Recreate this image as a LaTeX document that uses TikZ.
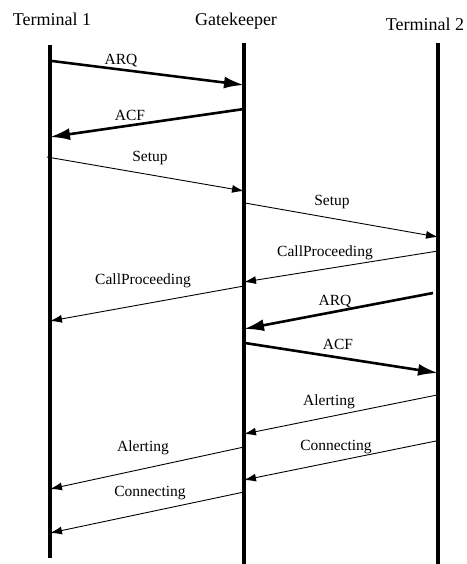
\documentclass[tikz,border=0pt]{standalone}
\usepackage{fontspec}
\setmainfont{Liberation Serif}
\usetikzlibrary{arrows.meta}
\begin{document}
\begin{tikzpicture}[x=1pt,y=-1pt,
  lifeline/.style={line width=3.6pt},
  heavymsg/.style={line width=2.6pt,-{Latex[length=20pt,width=12pt]}},
  lightmsg/.style={line width=0.9pt,-{Latex[length=12pt,width=8pt]}},
  header/.style={font=\fontsize{18}{20}\selectfont,anchor=base,inner sep=0pt},
  msglabel/.style={font=\fontsize{15.5}{18}\selectfont,anchor=base,inner sep=0pt}]
\useasboundingbox (0,0) rectangle (466,564);

% column headings
\node[header] (h1) at (52,26) {Terminal 1};
\node[header] (hg) at (236,26) {Gatekeeper};
\node[header] (h2) at (425,31) {Terminal 2};

% lifelines
\coordinate (t1top) at (50,45);  \coordinate (t1bot) at (50,558);
\coordinate (gktop) at (244,43); \coordinate (gkbot) at (244,564);
\coordinate (t2top) at (438,43); \coordinate (t2bot) at (438,564);
\draw[lifeline] (t1top) -- (t1bot);
\draw[lifeline] (gktop) -- (gkbot);
\draw[lifeline] (t2top) -- (t2bot);

% message end points
\coordinate (m1a) at (52,61);   \coordinate (m1b) at (244,85);
\coordinate (m2a) at (244,109); \coordinate (m2b) at (50,137);
\coordinate (m3a) at (47,157);  \coordinate (m3b) at (244,191);
\coordinate (m4a) at (245,203); \coordinate (m4b) at (438,237);
\coordinate (m5a) at (438,251); \coordinate (m5b) at (244,282);
\coordinate (m6a) at (244,286); \coordinate (m6b) at (50,321);
\coordinate (m7a) at (433,293); \coordinate (m7b) at (244,329);
\coordinate (m8a) at (245,343); \coordinate (m8b) at (438,373);
\coordinate (m9a) at (437,395); \coordinate (m9b) at (244,434);
\coordinate (m10a) at (436,441); \coordinate (m10b) at (244,480);
\coordinate (m11a) at (244,447); \coordinate (m11b) at (50,489);
\coordinate (m12a) at (244,492); \coordinate (m12b) at (50,533);

% messages
\draw[heavymsg] (m1a) -- (m1b);
\draw[heavymsg] (m2a) -- (m2b);
\draw[lightmsg] (m3a) -- (m3b);
\draw[lightmsg] (m4a) -- (m4b);
\draw[lightmsg] (m5a) -- (m5b);
\draw[lightmsg] (m6a) -- (m6b);
\draw[heavymsg] (m7a) -- (m7b);
\draw[heavymsg] (m8a) -- (m8b);
\draw[lightmsg] (m9a) -- (m9b);
\draw[lightmsg] (m10a) -- (m10b);
\draw[lightmsg] (m11a) -- (m11b);
\draw[lightmsg] (m12a) -- (m12b);

% message labels
\node[msglabel] (l1) at (121,65) {ARQ};
\node[msglabel] (l2) at (130,121) {ACF};
\node[msglabel] (l3) at (150,161) {Setup};
\node[msglabel] (l4) at (332,205) {Setup};
\node[msglabel] (l5) at (325,256) {CallProceeding};
\node[msglabel] (l6) at (143,284) {CallProceeding};
\node[msglabel] (l7) at (335,305) {ARQ};
\node[msglabel] (l8) at (338,349) {ACF};
\node[msglabel] (l9) at (329,405) {Alerting};
\node[msglabel] (l10) at (336,450) {Connecting};
\node[msglabel] (l11) at (143,451) {Alerting};
\node[msglabel] (l12) at (150,496) {Connecting};
\end{tikzpicture}
\end{document}
